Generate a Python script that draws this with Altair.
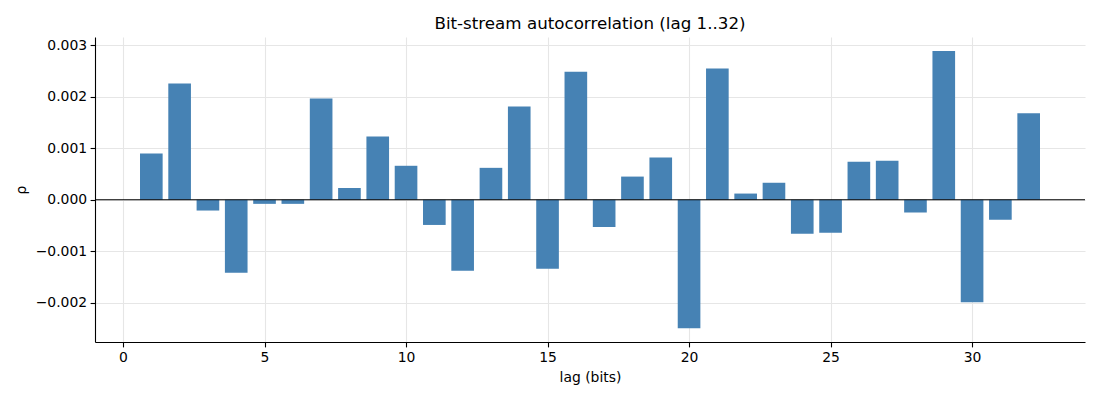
import altair as alt
import pandas as pd

lags = list(range(1, 33))
rho = [0.00090, 0.00226, -0.00021, -0.00142, -0.00008, -0.00008, 0.00197, 0.00023,
       0.00123, 0.00066, -0.00049, -0.00138, 0.00062, 0.00181, -0.00134, 0.00249,
       -0.00053, 0.00045, 0.00082, -0.00250, 0.00255, 0.00012, 0.00033, -0.00066,
       -0.00064, 0.00074, 0.00076, -0.00025, 0.00289, -0.00199, -0.00039, 0.00168]
x_ticks = [0, 5, 10, 15, 20, 25, 30]
y_ticks = [-0.002, -0.001, 0.0, 0.001, 0.002, 0.003]

df = pd.DataFrame({"lag": lags, "rho": rho})
FONT = "DejaVu Sans"

xscale = alt.Scale(domain=[-0.99, 33.99], nice=False, zero=False)
yscale = alt.Scale(domain=[-0.002765, 0.003163], nice=False, zero=False)

bars = alt.Chart(df).transform_calculate(
    x0="datum.lag - 0.4", x1="datum.lag + 0.4"
).mark_rect(color="#4682b4").encode(
    x=alt.X("x0:Q", scale=xscale,
            axis=alt.Axis(values=x_ticks, format="d", title="lag (bits)")),
    x2="x1:Q",
    y=alt.Y("rho:Q", scale=yscale,
            axis=alt.Axis(values=y_ticks, format=".3f", title="ρ")),
    y2=alt.datum(0),
)

zero = alt.Chart(pd.DataFrame({"y": [0.0]})).mark_rule(
    color="black", strokeWidth=1.1
).encode(y=alt.Y("y:Q", scale=yscale))

chart = alt.layer(bars, zero).properties(
    width=990,
    height=305,
    autosize=alt.AutoSizeParams(type="none"),
    padding={"left": 87, "top": 29, "right": 7, "bottom": 48},
    title=alt.TitleParams(
        "Bit-stream autocorrelation (lag 1..32)",
        font=FONT, fontSize=16.7, fontWeight="normal", color="black",
        anchor="middle", offset=4,
    ),
).configure_view(stroke=None).configure_axis(
    labelFont=FONT, titleFont=FONT, labelFontSize=13.9, titleFontSize=13.9,
    labelColor="black", titleColor="black", titleFontWeight="normal",
    domainColor="black", domainWidth=1.1, tickColor="black", tickWidth=1.1,
    tickSize=4.9, labelPadding=3.5,
    grid=True, gridColor="#e6e6e6", gridWidth=1.1,
).configure_axisX(titlePadding=6).configure_axisY(titlePadding=7)

chart.save("out.html", embed_options={"renderer": "svg", "actions": False})
